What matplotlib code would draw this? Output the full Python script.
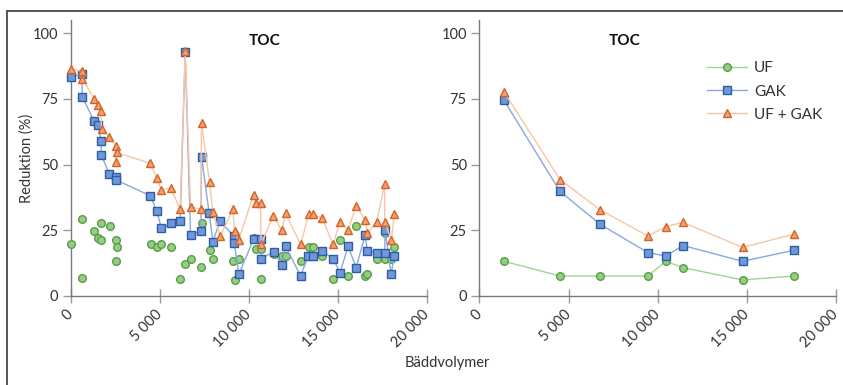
import matplotlib
matplotlib.use("Agg")
import matplotlib.pyplot as plt
from matplotlib.lines import Line2D
from matplotlib.ticker import FuncFormatter

plt.rcParams["font.family"] = ["Lato", "DejaVu Sans"]
plt.rcParams["text.color"] = "#333333"

# ---- left panel: all runs ----
uf_x = [0, 635, 618, 1327, 1515, 1703, 1720, 2190, 2546, 2583, 2527, 4496, 4833, 5075, 5620,
        6143, 6425, 6725, 7306, 7358, 7790, 7980, 9100, 9195, 9441, 10264, 10376, 10657, 10678,
        11388, 11840, 12060, 12905, 13356, 13600, 14123, 14725, 15118, 15568, 16017, 16540,
        16652, 17175, 17625, 17625, 17984, 18153]
uf_y = [19.8, 29.2, 7.0, 24.8, 22.1, 27.7, 21.2, 26.6, 21.2, 18.6, 13.2, 19.8, 18.6, 19.8, 18.6,
        6.6, 12.3, 14.1, 11.0, 27.7, 17.5, 14.1, 13.2, 6.1, 14.1, 21.9, 17.8, 17.8, 6.6,
        16.1, 15.1, 15.1, 13.2, 18.6, 18.6, 15.1, 6.6, 21.4, 7.5, 26.5, 7.5,
        8.2, 14.2, 14.2, 23.8, 14.2, 18.6]

gak_x = [0, 618, 650, 1327, 1534, 1703, 1720, 2170, 2546, 2560, 4474, 4833, 5092, 5620, 6143,
         6425, 6725, 7306, 7340, 7773, 7980, 8374, 9140, 9177, 9441, 10264, 10657, 10695, 11388,
         11858, 12060, 12905, 13320, 13600, 14123, 14725, 15118, 15568, 16017, 16523, 16652,
         17214, 17625, 17647, 17984, 18153]
gak_y = [83.2, 84.5, 75.7, 66.4, 64.9, 59.1, 53.5, 46.4, 45.2, 44.1, 38.1, 32.2, 25.7, 27.6, 28.5,
         92.7, 23.1, 24.8, 53.0, 31.4, 20.7, 28.5, 22.9, 20.0, 8.3, 21.6, 21.6, 14.2, 16.8,
         11.7, 18.9, 7.6, 15.1, 15.1, 17.1, 14.2, 8.9, 18.9, 10.8, 23.1, 17.1,
         16.5, 16.5, 25.1, 8.3, 15.2]

tri_x = [0, 618, 650, 1327, 1515, 1684, 1740, 2170, 2546, 2527, 2583, 4474, 4833, 5075, 5620,
         6143, 6425, 6725, 7306, 7340, 7790, 7980, 8390, 9100, 9195, 9420, 10264, 10376, 10657,
         10678, 11371, 11840, 12060, 12905, 13356, 13600, 14123, 14725, 15118, 15568, 16017,
         16540, 16652, 17175, 17625, 17625, 18001, 18153]
tri_y = [86.4, 85.5, 82.7, 74.8, 72.5, 70.4, 63.4, 60.5, 57.0, 51.1, 54.6, 50.4, 44.7, 40.5, 40.9,
         33.0, 93.3, 33.9, 33.0, 65.9, 43.3, 31.9, 22.7, 33.0, 24.8, 21.2, 38.6, 35.2, 35.2,
         19.6, 30.5, 25.0, 31.4, 19.6, 31.0, 31.0, 29.6, 19.6, 28.3, 25.0, 34.3,
         29.0, 23.8, 28.3, 42.7, 28.3, 21.2, 31.0]

# ---- right panel: averaged ----
avg_x = [1383, 4519, 6760, 9447, 10437, 11408, 14750, 17623]
avg_uf = [13.2, 7.6, 7.6, 7.6, 13.2, 10.8, 6.1, 7.6]
avg_gak = [74.4, 39.8, 27.3, 16.5, 15.2, 19.2, 13.2, 17.4]
avg_tri = [77.6, 44.3, 32.8, 22.8, 26.4, 28.0, 18.5, 23.5]

x_ticks = [0, 5000, 10000, 15000, 20000]
y_ticks = [0, 25, 50, 75, 100]

UF_FILL, UF_EDGE, UF_LINE = "#93cf82", "#5b9a48", "#9fd592"
GAK_FILL, GAK_EDGE, GAK_LINE = "#6f98d8", "#2f5ca3", "#86a9e0"
TRI_FILL, TRI_EDGE, TRI_LINE = "#f3a06b", "#d2642b", "#f9c6a4"

fig = plt.figure(figsize=(8.43, 3.85), dpi=100)
ax1 = fig.add_axes([0.0839, 0.2312, 0.4227, 0.717])
ax2 = fig.add_axes([0.5686, 0.2312, 0.4235, 0.717])

fmt = FuncFormatter(lambda v, p: f"{int(v):,}".replace(",", " "))

for ax in (ax1, ax2):
  ax.set_xlim(0, 20000)
  ax.set_ylim(0, 105)
  ax.set_xticks(x_ticks)
  ax.set_yticks(y_ticks)
  ax.xaxis.set_major_formatter(fmt)
  for s in ("top", "right"):
    ax.spines[s].set_visible(False)
  for s in ("left", "bottom"):
    ax.spines[s].set_color("#7a7a7a")
    ax.spines[s].set_linewidth(1.0)
  ax.tick_params(axis="x", direction="inout", length=10, width=1, color="#9a9a9a",
                 labelsize=10.5, labelcolor="#333333", pad=7)
  ax.tick_params(axis="y", direction="out", length=6, width=1, color="#9a9a9a",
                 labelsize=10.5, labelcolor="#333333", pad=3)
  for lab in ax.get_xticklabels():
    lab.set_rotation(45)
    lab.set_ha("right")
    lab.set_va("center")
    lab.set_rotation_mode("anchor")
  ax.set_facecolor("none")

mk = dict(markersize=5.5, markeredgewidth=1.0, clip_on=False)
tk = dict(markersize=6.2, markeredgewidth=1.0, clip_on=False)

# left panel
ax1.plot(uf_x, uf_y, ls="none", marker="o", markerfacecolor=UF_FILL, markeredgecolor=UF_EDGE,
         zorder=3, **mk)
ax1.plot(gak_x, gak_y, color=GAK_LINE, lw=1.0, marker="s", markerfacecolor=GAK_FILL,
         markeredgecolor=GAK_EDGE, zorder=4, **mk)
ax1.plot(tri_x, tri_y, color=TRI_LINE, lw=1.0, marker="^", markerfacecolor=TRI_FILL,
         markeredgecolor=TRI_EDGE, zorder=5, **tk)
ax1.text(0.543, 0.925, "TOC", transform=ax1.transAxes, ha="center", va="center",
         fontsize=11, fontweight="bold", color="#111111")
ax1.set_ylabel("Reduktion (%)", fontsize=10.5, color="#333333", labelpad=-1)

# right panel
ax2.plot(avg_x, avg_uf, color=UF_LINE, lw=1.0, marker="o", markerfacecolor=UF_FILL,
         markeredgecolor=UF_EDGE, zorder=3, **mk)
ax2.plot(avg_x, avg_gak, color=GAK_LINE, lw=1.0, marker="s", markerfacecolor=GAK_FILL,
         markeredgecolor=GAK_EDGE, zorder=4, **mk)
ax2.plot(avg_x, avg_tri, color=TRI_LINE, lw=1.0, marker="^", markerfacecolor=TRI_FILL,
         markeredgecolor=TRI_EDGE, zorder=5, **tk)
ax2.text(0.406, 0.925, "TOC", transform=ax2.transAxes, ha="center", va="center",
         fontsize=11, fontweight="bold", color="#111111")

handles = [
  Line2D([], [], color=UF_LINE, lw=1.0, marker="o", markerfacecolor=UF_FILL,
         markeredgecolor=UF_EDGE, markersize=5.5, markeredgewidth=1.0),
  Line2D([], [], color=GAK_LINE, lw=1.0, marker="s", markerfacecolor=GAK_FILL,
         markeredgecolor=GAK_EDGE, markersize=5.5, markeredgewidth=1.0),
  Line2D([], [], color=TRI_LINE, lw=1.0, marker="^", markerfacecolor=TRI_FILL,
         markeredgecolor=TRI_EDGE, markersize=6.2, markeredgewidth=1.0),
]
ax2.legend(handles, ["UF", "GAK", "UF + GAK"], loc="upper left", bbox_to_anchor=(0.62, 0.872),
           frameon=False, fontsize=11, handlelength=2.6, handletextpad=0.5,
           labelspacing=0.6, borderaxespad=0)

fig.text(447 / 843, 1 - 363 / 385, "Bäddvolymer", ha="center", va="center",
         fontsize=10.5, color="#333333")

# outer frame (top and left edges)
fig.add_artist(Line2D([7 / 843, 7 / 843], [0, 1 - 11 / 385], transform=fig.transFigure,
                      color="#555555", lw=1.4))
fig.add_artist(Line2D([7 / 843, 1], [1 - 11 / 385, 1 - 11 / 385], transform=fig.transFigure,
                      color="#555555", lw=1.4))

fig.savefig("out.png", dpi=100)
